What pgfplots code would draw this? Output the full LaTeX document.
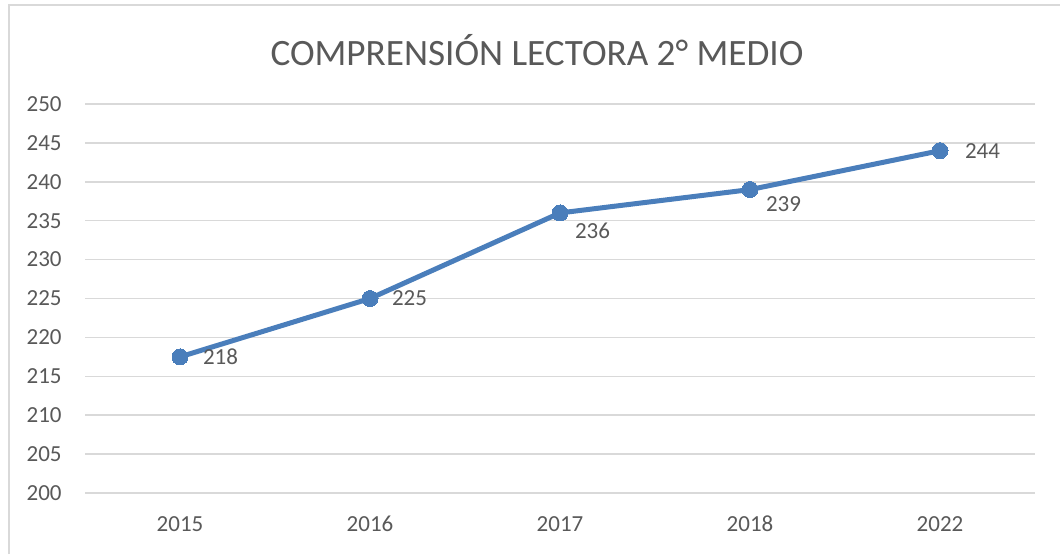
\documentclass[border=0pt]{standalone}
\usepackage{fontspec}
\setmainfont{Carlito}
\usepackage{pgfplots}
\pgfplotsset{compat=1.18}
\usepackage{pgfplotstable}

\definecolor{txt}{HTML}{595959}
\definecolor{gridc}{HTML}{D9D9D9}
\definecolor{serie}{HTML}{4A7EBB}

% year index, score, label, label shift
\pgfplotstableread{
x y lab dx dy
0 217.5 218 11.5 0
1 225 225 11 0
2 236 236 7.5 -9
3 239 239 8 -7.5
4 244 244 12.5 0
}\lectura

\begin{document}
\begin{tikzpicture}
\path[use as bounding box] (0,0) rectangle (530pt,277pt);
\draw[gridc, line width=0.8pt] (4.5pt,0) -- (4.5pt,274.5pt) -- (530pt,274.5pt);

\begin{axis}[
    at={(42.5pt,30.5pt)}, anchor=south west,
    scale only axis,
    width=475pt, height=194.5pt,
    xmin=-0.5, xmax=4.5,
    ymin=200, ymax=250,
    xtick={0,1,2,3,4},
    xticklabels={2015,2016,2017,2018,2022},
    ytick={200,205,...,250},
    ymajorgrids,
    grid style={gridc, line width=0.75pt},
    axis line style={draw=none},
    major tick length=0pt,
    /pgf/number format/assume math mode=true,
    tick label style={font=\fontsize{11.5}{13}\selectfont, text=txt, inner sep=0pt},
    yticklabel style={anchor=east, xshift=-11.5pt},
    xticklabel style={anchor=center, yshift=-15.5pt},
    clip=false,
]
\addplot[serie, line width=2.5pt, mark=*, mark size=4pt,
    mark options={fill=serie, draw=serie, line width=0pt},
    point meta=explicit,
    visualization depends on={\thisrow{dx} \as \dx},
    visualization depends on={\thisrow{dy} \as \dy},
    nodes near coords,
    every node near coord/.append style={anchor=west, inner sep=0pt,
        xshift=\dx pt, yshift=\dy pt, text=txt,
        font=\fontsize{11.5}{13}\selectfont,
        /pgf/number format/assume math mode=true},
] table[x=x, y=y, meta=lab] {\lectura};
\end{axis}

\node[text=txt, font=\fontsize{18.6}{21}\selectfont] at (268.5pt,252pt)
    {COMPRENSIÓN LECTORA 2° MEDIO};
\end{tikzpicture}
\end{document}
